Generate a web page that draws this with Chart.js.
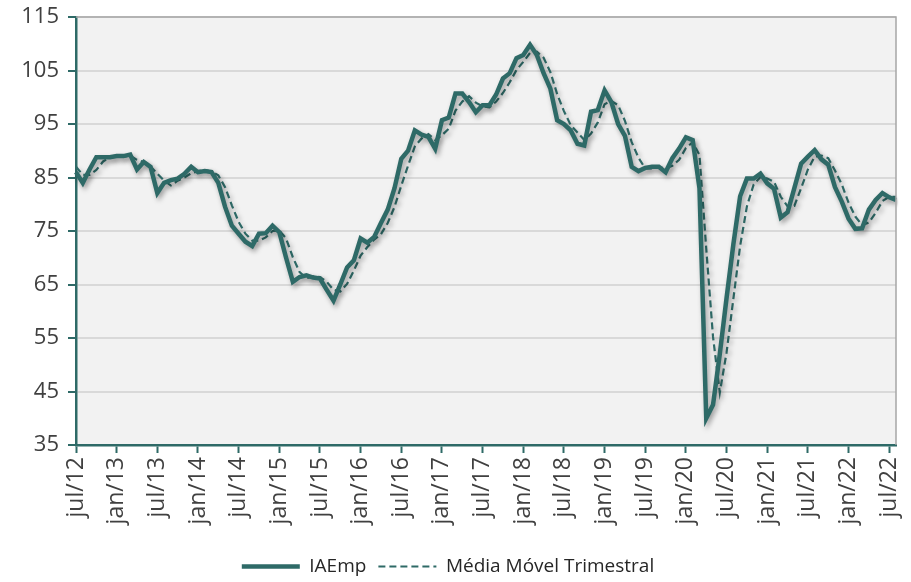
<!DOCTYPE html>
<html>
<head>
<meta charset="utf-8">
<script src="https://cdn.jsdelivr.net/npm/chart.js@4.4.1/dist/chart.umd.min.js"></script>
<style>
  html, body { margin: 0; padding: 0; background: #ffffff; }
  #wrap { width: 911px; height: 582px; }
</style>
</head>
<body>
<div id="wrap"><canvas id="iaempChart" width="911" height="582"></canvas></div>
<script>
// meses de jul/12 a ago/22
var meses = ['jan', 'fev', 'mar', 'abr', 'mai', 'jun', 'jul', 'ago', 'set', 'out', 'nov', 'dez'];
var anoInicial = 12, mesInicial = 6, totalMeses = 122;

var yTicks = [35, 45, 55, 65, 75, 85, 95, 105, 115];

var iaemp = [
    86.0, 84.0, 86.5, 88.8, 88.8, 88.8, 89.0, 89.0, 89.3, 86.5, 87.9, 87.0,
    82.1, 84.0, 84.5, 84.8, 85.7, 87.0, 86.0, 86.2, 86.0, 84.0, 79.5, 76.0,
    74.5, 73.0, 72.2, 74.5, 74.6, 76.0, 74.8, 70.0, 65.5, 66.4, 66.7, 66.3,
    66.1, 64.0, 62.0, 65.0, 68.2, 69.5, 73.6, 72.8, 73.9, 76.5, 79.0, 83.0,
    88.5, 90.0, 93.8, 93.0, 92.6, 90.4, 95.7, 96.2, 100.7, 100.7, 99.1, 97.2,
    98.5, 98.5, 100.5, 103.5, 104.5, 107.3, 107.9, 109.8, 107.9, 104.5, 101.6, 95.7,
    95.0, 93.8, 91.3, 91.0, 97.3, 97.6, 101.3, 99.1, 95.0, 92.8, 87.0, 86.2,
    86.8, 87.0, 87.0, 86.0, 88.6, 90.4, 92.5, 92.0, 83.0, 40.0, 42.5, 52.0,
    62.5, 72.5, 81.5, 84.8, 84.8, 85.7, 83.9, 82.9, 77.5, 78.5, 83.0, 87.6,
    88.9, 90.1, 88.4, 87.4, 83.2, 80.5, 77.3, 75.4, 75.5, 79.0, 80.8, 82.1,
    81.3, 80.8
];

var mediaMovel = [
    87.0, 85.5, 85.5, 86.4, 88.0, 88.8, 88.9, 88.9, 89.1, 88.3, 87.9, 87.1,
    85.7, 84.4, 83.5, 84.4, 85.0, 85.8, 86.2, 86.4, 86.1, 85.4, 83.2, 79.8,
    76.7, 74.5, 73.2, 73.2, 73.8, 75.0, 75.1, 73.6, 70.1, 67.3, 66.2, 66.5,
    66.4, 65.5, 64.0, 63.7, 65.1, 67.6, 70.4, 72.0, 73.4, 74.4, 76.5, 79.5,
    83.5, 87.2, 90.8, 92.3, 93.1, 92.0, 92.9, 94.1, 97.5, 99.2, 100.2, 99.0,
    98.3, 98.1, 99.2, 100.8, 102.8, 105.1, 106.6, 108.3, 108.5, 107.4, 104.7, 100.6,
    97.4, 94.8, 93.4, 92.0, 93.2, 95.3, 98.7, 99.3, 98.5, 95.6, 91.6, 88.7,
    86.7, 86.7, 86.9, 86.7, 87.2, 88.3, 90.5, 91.6, 89.2, 71.7, 55.2, 44.8,
    52.3, 62.3, 72.2, 79.6, 83.7, 85.1, 84.8, 84.2, 81.4, 79.6, 79.7, 83.0,
    86.5, 88.9, 89.1, 88.6, 86.3, 83.7, 80.3, 77.7, 76.1, 76.6, 78.4, 80.6,
    81.4, 81.4
];

var labels = [];
for (var i = 0; i < totalMeses; i++) {
    var m = (mesInicial + i) % 12;
    var a = anoInicial + Math.floor((mesInicial + i) / 12);
    labels.push(meses[m] + '/' + a);
}

var teal = '#2e6a67';
var textColor = '#404040';

// fundo cinza da área do gráfico e borda superior/direita
var plotArea = {
    id: 'plotArea',
    beforeDraw: function (chart) {
        var c = chart.ctx, a = chart.chartArea;
        c.save();
        c.fillStyle = '#f2f2f2';
        c.fillRect(a.left, a.top, a.right - a.left, a.bottom - a.top);
        c.restore();
    },
    afterDraw: function (chart) {
        var c = chart.ctx, a = chart.chartArea;
        c.save();
        c.strokeStyle = '#a6a6a6';
        c.lineWidth = 1.5;
        c.beginPath();
        c.moveTo(a.left, a.top);
        c.lineTo(a.right, a.top);
        c.lineTo(a.right, a.bottom);
        c.stroke();
        c.restore();
    }
};

// sombra das linhas
var lineShadow = {
    id: 'lineShadow',
    beforeDatasetDraw: function (chart) {
        var c = chart.ctx;
        c.save();
        c.shadowColor = 'rgba(0, 0, 0, 0.35)';
        c.shadowBlur = 5;
        c.shadowOffsetX = 2;
        c.shadowOffsetY = 3;
    },
    afterDatasetDraw: function (chart) {
        chart.ctx.restore();
    }
};

var ctx = document.getElementById('iaempChart');
var chart = new Chart(ctx, {
    type: 'line',
    data: {
        labels: labels,
        datasets: [{
            label: 'IAEmp',
            data: iaemp,
            borderColor: teal,
            backgroundColor: teal,
            borderWidth: 4.5,
            pointRadius: 0,
            tension: 0,
            fill: false
        }, {
            label: 'Média Móvel Trimestral',
            data: mediaMovel,
            borderColor: teal,
            backgroundColor: teal,
            borderWidth: 2.2,
            borderDash: [7, 4],
            pointRadius: 0,
            tension: 0,
            fill: false
        }]
    },
    options: {
        responsive: false,
        animation: false,
        layout: {
            padding: { top: 17, right: 15, bottom: -4, left: 0 }
        },
        plugins: {
            legend: {
                position: 'bottom',
                labels: {
                    usePointStyle: true,
                    pointStyleWidth: 58,
                    color: '#262626',
                    padding: 12,
                    font: { family: 'Open Sans', size: 19 },
                    generateLabels: function (chart) {
                        return chart.data.datasets.map(function (ds, i) {
                            return {
                                text: ds.label,
                                fillStyle: ds.borderColor,
                                strokeStyle: ds.borderColor,
                                lineWidth: ds.borderWidth,
                                lineDash: ds.borderDash || [],
                                pointStyle: 'line',
                                fontColor: '#262626',
                                hidden: false,
                                datasetIndex: i
                            };
                        });
                    }
                }
            },
            tooltip: { enabled: false }
        },
        scales: {
            x: {
                offset: false,
                afterFit: function (s) {
                    s.height = 100;
                    s.paddingRight = 0;
                    s.paddingLeft = 0;
                },
                border: { color: teal, width: 2.5 },
                grid: {
                    drawOnChartArea: false,
                    drawTicks: true,
                    tickLength: 8,
                    tickWidth: 2,
                    tickColor: function (c) { return c.index % 6 === 0 ? teal : 'rgba(0,0,0,0)'; }
                },
                ticks: {
                    autoSkip: false,
                    maxRotation: 90,
                    minRotation: 90,
                    padding: 4,
                    color: textColor,
                    font: { family: 'Open Sans', size: 23 },
                    callback: function (v, idx) { return idx % 6 === 0 ? labels[idx] : ''; }
                }
            },
            y: {
                min: yTicks[0],
                max: yTicks[yTicks.length - 1],
                afterFit: function (s) {
                    s.width = 76;
                    s.paddingTop = 0;
                    s.paddingBottom = 0;
                },
                afterBuildTicks: function (s) {
                    s.ticks = yTicks.map(function (v) { return { value: v }; });
                },
                border: { color: teal, width: 2.5 },
                grid: {
                    color: '#d9d9d9',
                    lineWidth: 2,
                    tickLength: 8,
                    tickWidth: 2,
                    tickColor: teal
                },
                ticks: {
                    padding: 9,
                    color: textColor,
                    font: { family: 'Open Sans', size: 22 }
                }
            }
        }
    },
    plugins: [plotArea, lineShadow]
});
</script>
</body>
</html>
